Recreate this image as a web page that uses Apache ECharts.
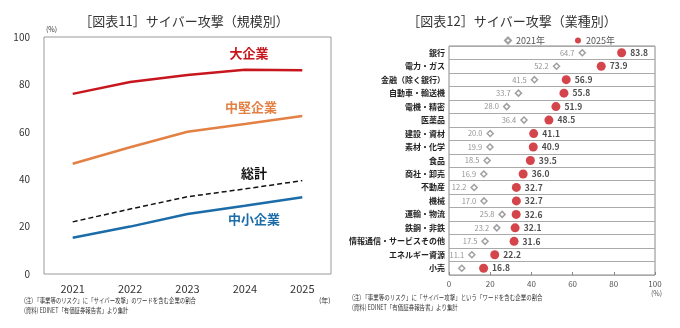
<!DOCTYPE html>
<html><head><meta charset="utf-8">
<script src="https://cdn.jsdelivr.net/npm/echarts@6/dist/echarts.min.js"></script>
<style>html,body{margin:0;padding:0;background:#fff}#c{width:680px;height:328px}</style>
</head><body><div id="c"></div>
<script>
const years = ['2021','2022','2023','2024','2025'];
const largeCo = [76, 81, 84, 86.2, 86];
const midCo = [46.5, 53.5, 60, 63.3, 66.7];
const totalAll = [22, 27.4, 32.6, 35.9, 39.4];
const smallCo = [15.3, 20, 25.3, 28.8, 32.4];

const industries = ['銀行','電力・ガス','金融（除く銀行）','自動車・輸送機','電機・精密','医薬品','建設・資材','素材・化学','食品','商社・卸売','不動産','機械','運輸・物流','鉄鋼・非鉄','情報通信・サービスその他','エネルギー資源','小売'];
const v2021 = [64.7, 52.2, 41.5, 33.7, 28.0, 36.4, 20.0, 19.9, 18.5, 16.9, 12.2, 17.0, 25.8, 23.2, 17.5, 11.1, 6.2];
const v2025 = [83.8, 73.9, 56.9, 55.8, 51.9, 48.5, 41.1, 40.9, 39.5, 36.0, 32.7, 32.7, 32.6, 32.1, 31.6, 22.2, 16.8];
const hideLabel2021 = ['小売'];

const FONT = '"Noto Sans CJK JP", "Noto Sans", sans-serif';
const chart = echarts.init(document.getElementById('c'));

function txt(x, y, text, opt, extra) {
  return Object.assign({type:'text', x:x, y:y, style:Object.assign({text:text, font:'10px '+FONT, fill:'#333', textAlign:'left', textVerticalAlign:'middle'}, opt||{})}, extra||{});
}

chart.setOption({
  animation:false,
  textStyle:{fontFamily:FONT},
  grid:[
    {left:44, right:349, top:37, bottom:54, show:true, borderColor:'#999', borderWidth:1},
    {left:449, right:25, top:46, bottom:53, show:true, borderColor:'#888', borderWidth:1}
  ],
  legend:{
    left:499, top:31, itemGap:30, itemWidth:6, itemHeight:6,
    textStyle:{fontSize:9, color:'#555', fontFamily:FONT},
    data:[{name:'2021年', icon:'diamond'},{name:'2025年', icon:'circle'}]
  },
  xAxis:[
    {gridIndex:0, type:'category', data:years, boundaryGap:true,
     axisLine:{show:false}, axisTick:{show:false},
     axisLabel:{fontSize:11, color:'#333', margin:9}},
    {gridIndex:1, type:'value', min:0, max:100, interval:20,
     axisLine:{show:false}, axisTick:{show:true, inside:true, length:3, lineStyle:{color:'#888'}},
     splitLine:{show:false},
     axisLabel:{fontSize:8, color:'#555', margin:5}}
  ],
  yAxis:[
    {gridIndex:0, type:'value', min:0, max:100, interval:20,
     axisLine:{show:false}, axisTick:{show:false}, splitLine:{show:false},
     axisLabel:{fontSize:10, color:'#333', margin:14}},
    {gridIndex:1, type:'category', data:industries, inverse:true, boundaryGap:true,
     axisLine:{show:false}, axisTick:{show:false},
     splitLine:{show:true, lineStyle:{color:'#aaa', width:1}},
     axisLabel:{fontSize:8, fontWeight:'bold', color:'#222', margin:4}}
  ],
  series:[
    {type:'line', xAxisIndex:0, yAxisIndex:0, data:largeCo, symbol:'none', lineStyle:{color:'#c8161e', width:2.5}, itemStyle:{color:'#c8161e'}},
    {type:'line', xAxisIndex:0, yAxisIndex:0, data:midCo, symbol:'none', lineStyle:{color:'#e38043', width:2.5}, itemStyle:{color:'#e38043'}},
    {type:'line', xAxisIndex:0, yAxisIndex:0, data:totalAll, symbol:'none', lineStyle:{color:'#111', width:1.5, type:[5,3]}, itemStyle:{color:'#111'}},
    {type:'line', xAxisIndex:0, yAxisIndex:0, data:smallCo, symbol:'none', lineStyle:{color:'#1b6ca8', width:2.5}, itemStyle:{color:'#1b6ca8'}},
    {name:'2021年', type:'scatter', xAxisIndex:1, yAxisIndex:1, symbol:'diamond', symbolSize:6,
     itemStyle:{color:'#fff', borderColor:'#888', borderWidth:1.5},
     label:{show:true, position:'left', distance:4, fontSize:7.5, color:'#777', formatter:p=>p.value[0].toFixed(1)},
     data:v2021.map((v,i)=> hideLabel2021.includes(industries[i]) ? {value:[v,i], label:{show:false}} : [v,i])},
    {name:'2025年', type:'scatter', xAxisIndex:1, yAxisIndex:1, symbol:'circle', symbolSize:9,
     itemStyle:{color:'#c8161e'},
     label:{show:true, position:'right', distance:4, fontSize:8.5, fontWeight:'bold', color:'#222', formatter:p=>p.value[0].toFixed(1)},
     data:v2025.map((v,i)=>[v,i])}
  ],
  graphic:[
    txt(184, 21, '［図表11］サイバー攻撃（規模別）', {font:'13px '+FONT, textAlign:'center'}),
    txt(512, 21, '［図表12］サイバー攻撃（業種別）', {font:'13px '+FONT, textAlign:'center'}),
    txt(46, 29, '(%)', {font:'7px '+FONT}),
    txt(319, 300, '(年)', {font:'7px '+FONT}),
    txt(249, 53, '大企業', {font:'bold 13px '+FONT, fill:'#c8161e', textAlign:'center'}),
    txt(251, 107, '中堅企業', {font:'bold 13px '+FONT, fill:'#e38043', textAlign:'center'}),
    txt(254, 173, '総計', {font:'bold 13px '+FONT, fill:'#111', textAlign:'center'}),
    txt(254, 219, '中小企業', {font:'bold 13px '+FONT, fill:'#1b6ca8', textAlign:'center'}),
    txt(24, 300, '(注) 「事業等のリスク」に「サイバー攻撃」のワードを含む企業の割合', {font:'7px '+FONT}, {scaleX:0.77}),
    txt(24, 310, '(資料) EDINET「有価証券報告書」より集計', {font:'7px '+FONT}, {scaleX:0.77}),
    txt(651, 293, '(%)', {font:'7px '+FONT, fill:'#555'}),
    txt(352, 297, '(注) 「事業等のリスク」に「サイバー攻撃」という「ワードを含む企業の割合', {font:'7px '+FONT}, {scaleX:0.78}),
    txt(352, 307, '(資料) EDINET「有価証券報告書」より集計', {font:'7px '+FONT}, {scaleX:0.78})
  ]
});
</script></body></html>
